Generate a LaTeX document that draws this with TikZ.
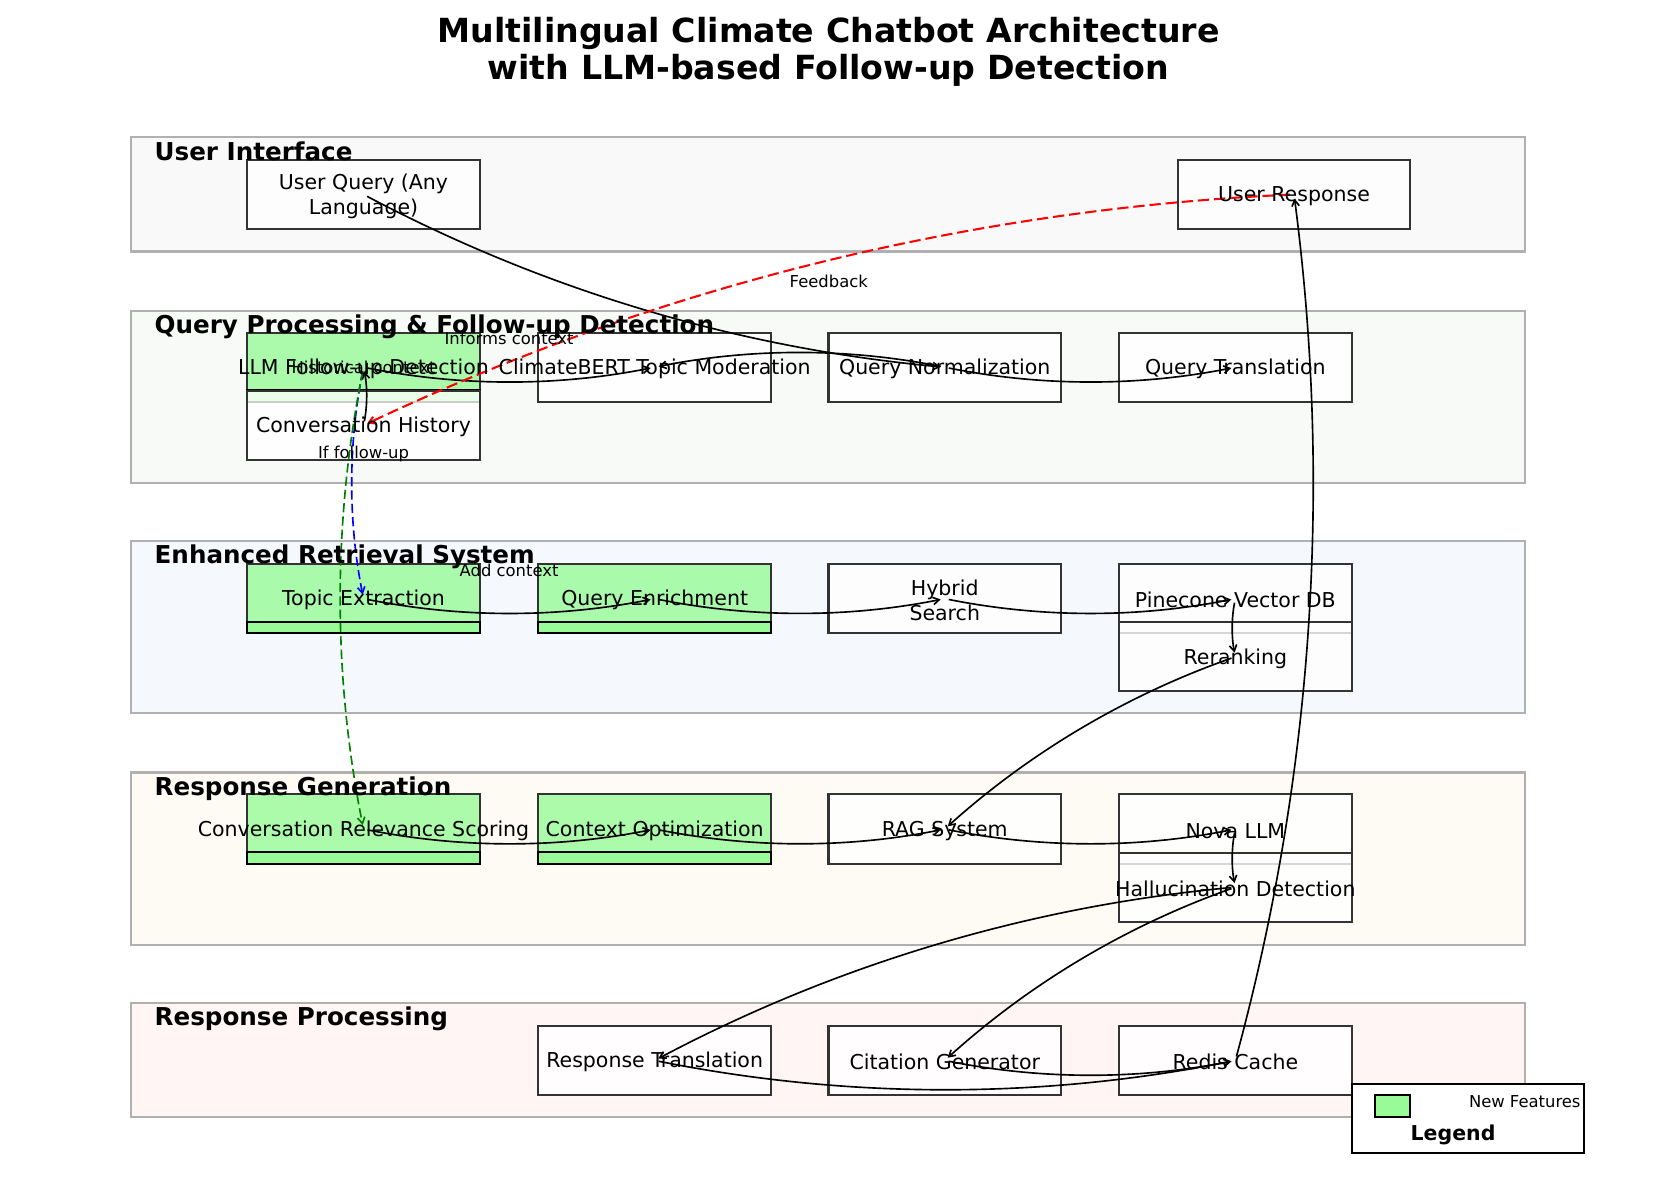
\documentclass[tikz,border=0pt]{standalone}
\usepackage{fontspec}
\setmainfont{DejaVu Sans}
\usetikzlibrary{calc,arrows.meta}
\definecolor{laygray}{HTML}{B0B0B0}
\definecolor{nodeedge}{HTML}{333333}
\definecolor{palegreen}{HTML}{98FB98}
\definecolor{uibg}{HTML}{F9F9F9}
\definecolor{qpbg}{HTML}{F8FAF8}
\definecolor{erbg}{HTML}{F5F9FD}
\definecolor{rgbg}{HTML}{FEFBF4}
\definecolor{rpbg}{HTML}{FFF5F5}
\definecolor{dgreen}{HTML}{008000}
\newcommand\arcconn[3][]{%
  \path ($(#2.center)!0.5!(#3.center)$) coordinate (m#2#3);
  \path ($(m#2#3)!0.2!-90:(#3.center)$) coordinate (c#2#3);
  \draw[edgeline,#1] (#2.center) .. controls ($(#2.center)!0.6667!(c#2#3)$) and ($(#3.center)!0.6667!(c#2#3)$) .. (#3.center);
}
\newcommand\gstrip[1]{\draw[stripbox] ($(#1.south west)+(0,-10.7)$) rectangle (#1.south east);}
\begin{document}
\begin{tikzpicture}[x=0.5155pt,y=-0.5155pt,
  lay/.style={draw=laygray,line width=1pt},
  nb/.style={draw=nodeedge,line width=1pt,minimum width=113.41pt,minimum height=33.76pt,inner sep=0pt,outer sep=0pt},
  wb/.style={nb,fill=white,fill opacity=0.8},
  gb/.style={nb,fill=palegreen,fill opacity=0.8},
  stripbox/.style={draw=black,line width=1pt,fill=palegreen},
  ntext/.style={font=\fontsize{10}{12}\selectfont,align=center,inner sep=0pt,yshift=-0.8pt},
  laytext/.style={font=\bfseries\fontsize{12}{14}\selectfont,anchor=base west,inner sep=0pt},
  titletext/.style={font=\bfseries\fontsize{16.2}{19}\selectfont,anchor=base,inner sep=0pt},
  elabel/.style={font=\fontsize{8}{10}\selectfont,inner sep=0pt},
  edgeline/.style={line width=0.8pt,shorten <=2pt,shorten >=2pt,-{Straight Barb[length=3pt,width=3.6pt]}},
  bluedash/.style={blue,dash pattern=on 4.5pt off 2pt},
  greendash/.style={dgreen,dash pattern=on 4.5pt off 2pt},
  reddash/.style={red,line width=1pt,dash pattern=on 5.5pt off 2.4pt},
]
\fill[white] (0,0) rectangle (1568,1127);
\useasboundingbox (0,0) rectangle (1568,1127);

% title
\node[titletext] (title1) at (784,40) {Multilingual Climate Chatbot Architecture};
\node[titletext] (title2) at (784,75) {with LLM-based Follow-up Detection};

% layers
\draw[lay,fill=uibg] (124,130) rectangle (1443,238);
\draw[lay,fill=qpbg] (124,294) rectangle (1443,457);
\draw[lay,fill=erbg] (124,512) rectangle (1443,675);
\draw[lay,fill=rgbg] (124,731) rectangle (1443,894);
\draw[lay,fill=rpbg] (124,949) rectangle (1443,1057);

% boxes
\node[wb] (uq) at (344,184) {};
\node[wb] (ur) at (1224.5,184) {};
\node[gb] (llm) at (344,347.5) {};
\gstrip{llm}
\node[wb] (ch) at (344,402.5) {};
\node[wb] (cb) at (619.5,347.5) {};
\node[wb] (qn) at (894,347.5) {};
\node[wb] (qt) at (1169,347.5) {};
\node[gb] (te) at (344,566.5) {};
\gstrip{te}
\node[gb] (qe) at (619.5,566.5) {};
\gstrip{qe}
\node[wb] (hs) at (894,566.5) {};
\node[wb] (pv) at (1169,566.5) {};
\node[wb] (rr) at (1169,621.5) {};
\node[gb] (crs) at (344,784.5) {};
\gstrip{crs}
\node[gb] (co) at (619.5,784.5) {};
\gstrip{co}
\node[wb] (rag) at (894,784.5) {};
\node[wb] (nova) at (1169,784.5) {};
\node[wb] (hd) at (1169,839.5) {};
\node[wb] (rt) at (619.5,1003.5) {};
\node[wb] (cg) at (894,1003.5) {};
\node[wb] (rc) at (1169,1003.5) {};

% connectors
\arcconn{uq}{qn}
\arcconn{qn}{qt}
\arcconn{llm}{cb}
\arcconn{qn}{cb}
\arcconn{ch}{llm}
\arcconn[bluedash]{llm}{te}
\arcconn[greendash]{llm}{crs}
\arcconn[reddash]{ur}{ch}
\arcconn{te}{qe}
\arcconn{qe}{hs}
\arcconn{hs}{pv}
\arcconn{pv}{rr}
\arcconn{rr}{rag}
\arcconn{crs}{co}
\arcconn{co}{rag}
\arcconn{rag}{nova}
\arcconn{nova}{hd}
\arcconn{hd}{rt}
\arcconn{hd}{cg}
\arcconn{rt}{rc}
\arcconn{cg}{rc}
\arcconn{rc}{ur}

% layer titles
\node[laytext] (l1) at (146,151.5) {User Interface};
\node[laytext] (l2) at (146,315.5) {Query Processing \& Follow-up Detection};
\node[laytext] (l3) at (146,533.5) {Enhanced Retrieval System};
\node[laytext] (l4) at (146,752.5) {Response Generation};
\node[laytext] (l5) at (146,970.5) {Response Processing};

% node texts
\node[ntext] (uqT) at (uq) {User Query (Any\\Language)};
\node[ntext] (urT) at (ur) {User Response};
\node[ntext] (llmT) at (llm) {LLM Follow-up Detection};
\node[ntext] (chT) at (ch) {Conversation History};
\node[ntext] (cbT) at (cb) {ClimateBERT Topic Moderation};
\node[ntext] (qnT) at (qn) {Query Normalization};
\node[ntext] (qtT) at (qt) {Query Translation};
\node[ntext] (teT) at (te) {Topic Extraction};
\node[ntext] (qeT) at (qe) {Query Enrichment};
\node[ntext] (hsT) at (hs) {Hybrid\\Search};
\node[ntext] (pvT) at (pv) {Pinecone Vector DB};
\node[ntext] (rrT) at (rr) {Reranking};
\node[ntext] (crsT) at (crs) {Conversation Relevance Scoring};
\node[ntext] (coT) at (co) {Context Optimization};
\node[ntext] (ragT) at (rag) {RAG System};
\node[ntext] (novaT) at (nova) {Nova LLM};
\node[ntext] (hdT) at (hd) {Hallucination Detection};
\node[ntext] (rtT) at (rt) {Response Translation};
\node[ntext] (cgT) at (cg) {Citation Generator};
\node[ntext] (rcT) at (rc) {Redis Cache};

% edge labels
\node[elabel] (lbFeed) at ($(ur.center)!0.5!(ch.center)+(0,-27)$) {Feedback};
\node[elabel] (lbInf) at ($(llm.center)!0.5!(cb.center)+(0,-27)$) {Informs context};
\node[elabel] (lbHist) at ($(ch.center)!0.5!(llm.center)+(0,-27)$) {Historical context};
\node[elabel] (lbIf) at ($(llm.center)!0.5!(te.center)+(0,-27)$) {If follow-up};
\node[elabel] (lbAdd) at ($(te.center)!0.5!(qe.center)+(0,-27)$) {Add context};

% legend
\node[draw=black,line width=1pt,fill=white,minimum width=113.41pt,minimum height=33.76pt,inner sep=0pt] (legbox) at (1389,1058.5) {};
\node[draw=black,line width=1pt,fill=palegreen,minimum width=17.0pt,minimum height=10.9pt,inner sep=0pt] (legsq) at (1317.5,1046.8) {};
\node[elabel,anchor=east] (legnew) at (1496,1042.5) {New Features};
\node[font=\bfseries\fontsize{10}{12}\selectfont,inner sep=0pt] (legT) at (1375,1074) {Legend};
\end{tikzpicture}
\end{document}
